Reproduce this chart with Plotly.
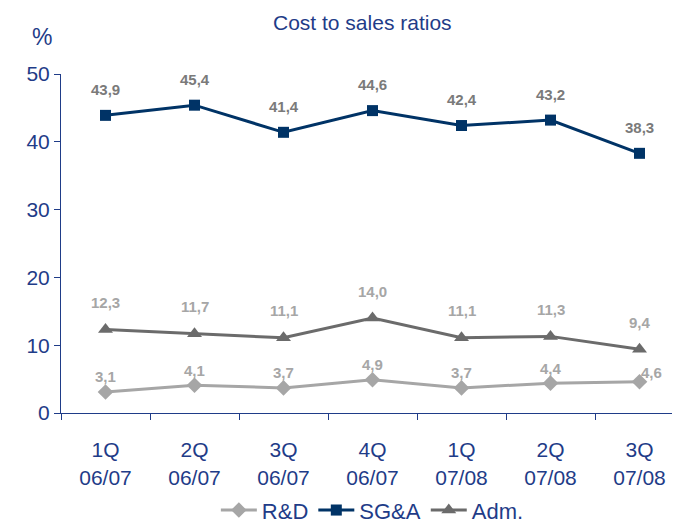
import plotly.graph_objects as go

categories = ["1Q<br>06/07", "2Q<br>06/07", "3Q<br>06/07", "4Q<br>06/07",
              "1Q<br>07/08", "2Q<br>07/08", "3Q<br>07/08"]
rnd = [3.1, 4.1, 3.7, 4.9, 3.7, 4.4, 4.6]
sga = [43.9, 45.4, 41.4, 44.6, 42.4, 43.2, 38.3]
adm = [12.3, 11.7, 11.1, 14.0, 11.1, 11.3, 9.4]
y_ticks = [0, 10, 20, 30, 40, 50]

BLUE = "#1F3C88"
FONT = "Liberation Sans, Arial, sans-serif"

def fmt(v):
    return f"{v:.1f}".replace(".", ",")

fig = go.Figure()
fig.add_trace(go.Scatter(x=categories, y=rnd, name="R&D", mode="lines+markers",
                         line=dict(color="#A6A6A6", width=3),
                         marker=dict(symbol="diamond", size=12, color="#A6A6A6")))
fig.add_trace(go.Scatter(x=categories, y=sga, name="SG&A", mode="lines+markers",
                         line=dict(color="#003366", width=3),
                         marker=dict(symbol="square", size=11, color="#003366")))
fig.add_trace(go.Scatter(x=categories, y=adm, name="Adm.", mode="lines+markers",
                         line=dict(color="#6B6B6B", width=3),
                         marker=dict(symbol="triangle-up", size=13, color="#6B6B6B")))

annotations = []
for i, c in enumerate(categories):
    annotations.append(dict(x=c, y=sga[i], text=f"<b>{fmt(sga[i])}</b>", showarrow=False,
                            yshift=26, font=dict(size=15, color="#7A7A7A", family=FONT)))
    annotations.append(dict(x=c, y=adm[i], text=f"<b>{fmt(adm[i])}</b>", showarrow=False,
                            yshift=27, font=dict(size=15, color="#A6A6A6", family=FONT)))
    last = i == len(categories) - 1
    annotations.append(dict(x=c, y=rnd[i], text=f"<b>{fmt(rnd[i])}</b>", showarrow=False,
                            yshift=15 if not last else 9, xshift=0 if not last else 12,
                            font=dict(size=15, color="#A6A6A6", family=FONT)))

annotations.append(dict(xref="paper", yref="paper", x=-0.03, y=1.11, text="%",
                        showarrow=False, xanchor="center", yanchor="middle",
                        font=dict(size=23, color=BLUE, family=FONT)))
annotations.append(dict(xref="paper", yref="paper", x=0.487, y=1.193, text="Cost to sales ratios",
                        showarrow=False, xanchor="center", yanchor="top",
                        font=dict(size=21, color=BLUE, family=FONT)))

fig.update_layout(
    width=672, height=515,
    margin=dict(l=53, r=0, t=66, b=110, autoexpand=False),
    paper_bgcolor="white", plot_bgcolor="white",
    font=dict(family=FONT, color=BLUE),
    showlegend=True,
    legend=dict(orientation="h", x=0.503, xanchor="center", y=-0.225, yanchor="top",
                font=dict(size=22, color=BLUE, family=FONT), itemwidth=36,
                traceorder="normal"),
    annotations=annotations,
)
fig.update_xaxes(type="category", range=[-0.5, 6.455], tickson="boundaries",
                 ticks="outside", ticklen=6, tickcolor=BLUE, showline=True,
                 linecolor=BLUE, linewidth=1, showgrid=False, zeroline=False,
                 automargin=False, ticklabelstandoff=18,
                 tickfont=dict(size=21, color=BLUE, family=FONT))
fig.update_yaxes(range=[0, 50], tickvals=y_ticks, ticks="outside", ticklen=6,
                 tickcolor=BLUE, showline=True, linecolor=BLUE, linewidth=1,
                 showgrid=False, zeroline=False, automargin=False,
                 tickfont=dict(size=21, color=BLUE, family=FONT))

fig.write_html("out.html")
